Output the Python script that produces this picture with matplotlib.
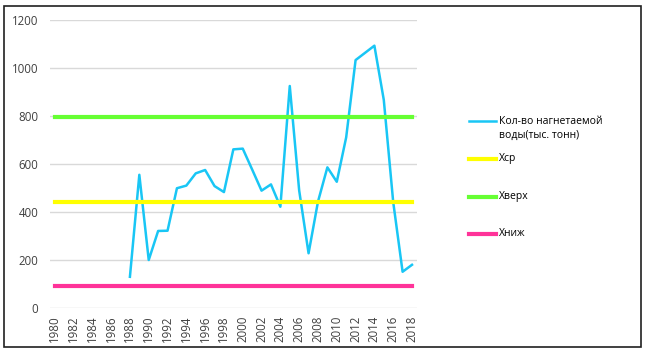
import numpy as np
import matplotlib.pyplot as plt
from matplotlib.lines import Line2D
from matplotlib.patches import Rectangle

plt.rcParams['font.family'] = ['Open Sans', 'DejaVu Sans']

years = list(range(1980, 2019))
# water injected, thousand tonnes (no data before 1988)
water = [np.nan] * 8 + [
    130, 555, 200, 321, 322, 499, 510, 561, 575, 508,
    483, 661, 664, 577, 489, 515, 422, 925, 490, 228,
    443, 586, 526, 711, 1033, 1063, 1093, 867, 442, 151,
    180,
]
x_avg = 443
x_upper = 794
x_lower = 92

labels = ['Кол-во нагнетаемой\nводы(тыс. тонн)', 'Хср', 'Хверх', 'Хниж']
colors = ['#19C6F5', '#FFFF00', '#66FF33', '#FF3399']

W, H = 646, 356
fig = plt.figure(figsize=(W/100, H/100), dpi=100)
ax = fig.add_axes([50/W, 1-308/H, 366.7/W, 288/H])

ax.plot(years, water, color=colors[0], lw=1.8)
ax.plot(years, [x_avg]*len(years), color=colors[1], lw=3)
ax.plot(years, [x_upper]*len(years), color=colors[2], lw=3)
ax.plot(years, [x_lower]*len(years), color=colors[3], lw=3)

ax.set_xlim(1979.5, 2018.5)
ax.set_ylim(0, 1200)
ax.set_yticks(range(0, 1201, 200))
ax.set_xticks(years[::2])
ax.set_xticklabels([str(y) for y in years[::2]], rotation=90)
ax.grid(axis='y', color='#D9D9D9', lw=1)
ax.set_axisbelow(True)
for s in ax.spines.values():
    s.set_visible(False)
ax.tick_params(length=0, labelsize=8.3, colors='#404040')
ax.tick_params(axis='y', pad=8.5)
ax.tick_params(axis='x', pad=5.5)

# legend drawn by hand so the first handle sits on the first text line
leg_y = [121.5, 159, 196.5, 234]
for lab, col, y in zip(labels, colors, leg_y):
    lw = 1.8 if col == colors[0] else 3
    fig.add_artist(Line2D([469/W, 496/W], [1-y/H, 1-y/H], color=col, lw=lw,
                          transform=fig.transFigure))
    fig.text(499/W, 1-y/H, lab, fontsize=7.5, va='top' if '\n' in lab else 'center',
             linespacing=1.45, transform=fig.transFigure)
# shift the two-line label so its first line centres on the handle
fig.texts[0].set_position((499/W, 1-(121.5-6)/H))

# outer border of the chart screenshot
fig.patches.append(Rectangle((4/W, 9/H), 637/W, 341/H, transform=fig.transFigure,
                             fill=False, ec='#202020', lw=1.2))

fig.savefig('out.png', dpi=100)
